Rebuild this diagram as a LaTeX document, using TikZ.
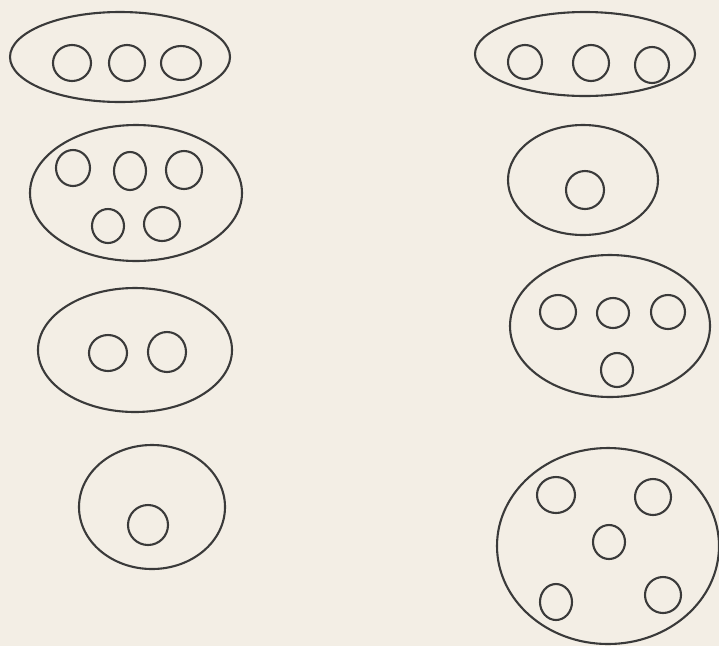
\documentclass[tikz,border=0pt]{standalone}
\usepackage{tikz}
\definecolor{paper}{HTML}{F3EEE5}
\definecolor{ink}{HTML}{3A3A3A}
\tikzset{
  outer/.style={draw=ink, line width=2.1pt},
  inner/.style={draw=ink, line width=2.1pt}
}
\begin{document}
\begin{tikzpicture}[x=1pt,y=-1pt]
\fill[paper] (0,0) rectangle (719,646);
\useasboundingbox (0,0) rectangle (719,646);
% left column
\draw[outer] (120,57) ellipse [x radius=110, y radius=45];
\draw[inner] (72,63) ellipse [x radius=19, y radius=18];
\draw[inner] (127,63) ellipse [x radius=18, y radius=18];
\draw[inner] (181,63) ellipse [x radius=20, y radius=17];

\draw[outer] (136,193) ellipse [x radius=106, y radius=68];
\draw[inner] (73,168) ellipse [x radius=17, y radius=18];
\draw[inner] (130,171) ellipse [x radius=16, y radius=19];
\draw[inner] (184,170) ellipse [x radius=18, y radius=19];
\draw[inner] (108,226) ellipse [x radius=16, y radius=17];
\draw[inner] (162,224) ellipse [x radius=18, y radius=17];

\draw[outer] (135,350) ellipse [x radius=97, y radius=62];
\draw[inner] (108,353) ellipse [x radius=19, y radius=18];
\draw[inner] (167,352) ellipse [x radius=19, y radius=20];

\draw[outer] (152,507) ellipse [x radius=73, y radius=62];
\draw[inner] (148,525) ellipse [x radius=20, y radius=20];
% right column
\draw[outer] (585,54) ellipse [x radius=110, y radius=42];
\draw[inner] (525,62) ellipse [x radius=17, y radius=17];
\draw[inner] (591,63) ellipse [x radius=18, y radius=18];
\draw[inner] (652,65) ellipse [x radius=17, y radius=18];

\draw[outer] (583,180) ellipse [x radius=75, y radius=55];
\draw[inner] (585,190) ellipse [x radius=19, y radius=19];

\draw[outer] (610,326) ellipse [x radius=100, y radius=71];
\draw[inner] (558,312) ellipse [x radius=18, y radius=17];
\draw[inner] (613,313) ellipse [x radius=16, y radius=15];
\draw[inner] (668,312) ellipse [x radius=17, y radius=17];
\draw[inner] (617,370) ellipse [x radius=16, y radius=17];

\draw[outer] (608,546) ellipse [x radius=111, y radius=98];
\draw[inner] (556,495) ellipse [x radius=19, y radius=18];
\draw[inner] (653,497) ellipse [x radius=18, y radius=18];
\draw[inner] (609,542) ellipse [x radius=16, y radius=17];
\draw[inner] (556,602) ellipse [x radius=16, y radius=18];
\draw[inner] (663,595) ellipse [x radius=18, y radius=18];
\end{tikzpicture}
\end{document}
